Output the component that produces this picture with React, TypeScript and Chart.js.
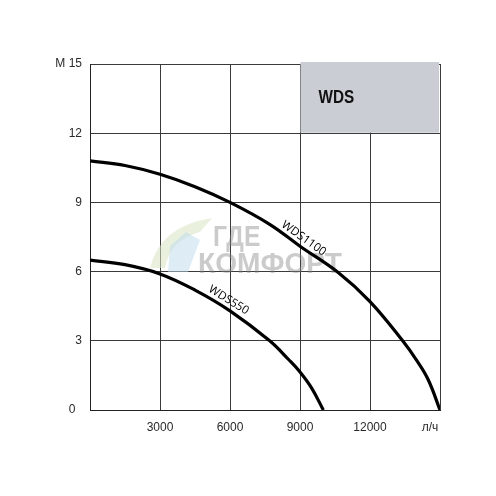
import React, { useEffect, useRef } from "react";
import { Chart, registerables } from "chart.js";

Chart.register(...registerables);

const xTickValues = [0, 3000, 6000, 9000, 12000, 15000];
const xTickLabels = ["", "3000", "6000", "9000", "12000", "л/ч      "];
const yTickValues = [0, 3, 6, 9, 12, 15];
const yTickLabels = ["0  ", "3", "6", "9", "12", "M 15"];

const wds1100Flow = [0, 1500, 3000, 4500, 6000, 7700, 9000, 10650, 12000, 13400, 14000, 14500, 15000];
const wds1100Head = [10.8, 10.6, 10.22, 9.68, 9.0, 8.05, 7.1, 5.95, 4.7, 3.0, 2.15, 1.3, 0];
const wds550Flow = [0, 1500, 3000, 4500, 6000, 7700, 8500, 9000, 9500, 10000];
const wds550Head = [6.5, 6.3, 5.9, 5.2, 4.3, 3.0, 2.2, 1.65, 0.95, 0];

const seriesNames = ["WDS1100", "WDS550"];
const labelAt = [8950, 5750];
const boxTitle = "WDS";
const boxRange = { x0: 9000, x1: 15000, y0: 12, y1: 15 };
const watermark = ["ГДЕ", "КОМФОРТ"];

function interp(xs: number[], ys: number[], x: number) {
  for (let i = 0; i < xs.length - 1; i++) {
    if (x >= xs[i] && x <= xs[i + 1]) {
      const t = (x - xs[i]) / (xs[i + 1] - xs[i]);
      return ys[i] + t * (ys[i + 1] - ys[i]);
    }
  }
  return ys[ys.length - 1];
}

const decorPlugin = {
  id: "decor",
  beforeDatasetsDraw(chart: any) {
    const ctx = chart.ctx;
    const xs = chart.scales.x;
    const ys = chart.scales.y;
    // faint watermark logo
    ctx.save();
    ctx.fillStyle = "rgba(215,228,195,0.55)";
    ctx.beginPath();
    ctx.moveTo(150, 268);
    ctx.quadraticCurveTo(160, 226, 212, 218);
    ctx.lineTo(200, 232);
    ctx.quadraticCurveTo(170, 240, 165, 268);
    ctx.closePath();
    ctx.fill();
    ctx.fillStyle = "rgba(190,220,235,0.5)";
    ctx.beginPath();
    ctx.moveTo(168, 272);
    ctx.lineTo(170, 246);
    ctx.lineTo(186, 232);
    ctx.lineTo(200, 240);
    ctx.lineTo(188, 272);
    ctx.closePath();
    ctx.fill();
    ctx.restore();
    // watermark text
    ctx.save();
    ctx.fillStyle = "rgba(130,130,130,0.42)";
    ctx.font = "bold 29px 'Liberation Sans', sans-serif";
    ctx.textBaseline = "alphabetic";
    ctx.textAlign = "left";
    ctx.save();
    ctx.translate(213, 246);
    ctx.scale(0.85, 1);
    ctx.fillText(watermark[0], 0, 0);
    ctx.restore();
    ctx.save();
    ctx.translate(198, 273);
    ctx.scale(0.97, 1);
    ctx.fillText(watermark[1], 0, 0);
    ctx.restore();
    ctx.restore();
    // grey box
    const l = xs.getPixelForValue(boxRange.x0) + 0.5;
    const r = xs.getPixelForValue(boxRange.x1) - 1;
    const t = ys.getPixelForValue(boxRange.y1) - 2;
    const b = ys.getPixelForValue(boxRange.y0) - 0.5;
    ctx.save();
    ctx.fillStyle = "#cbcdd5";
    ctx.fillRect(l, t, r - l, b - t);
    ctx.fillStyle = "#111";
    ctx.font = "bold 18px 'Liberation Sans', sans-serif";
    ctx.textBaseline = "middle";
    ctx.textAlign = "left";
    ctx.translate(l + 18, (t + b) / 2 + 1);
    ctx.scale(0.85, 1);
    ctx.fillText(boxTitle, 0, 0);
    ctx.restore();
  },
  afterDatasetsDraw(chart: any) {
    const ctx = chart.ctx;
    const xs = chart.scales.x;
    const ys = chart.scales.y;
    const sets = [
      [wds1100Flow, wds1100Head],
      [wds550Flow, wds550Head],
    ];
    sets.forEach((s, i) => {
      const q = labelAt[i];
      const x1 = xs.getPixelForValue(q - 400);
      const y1 = ys.getPixelForValue(interp(s[0], s[1], q - 400));
      const x2 = xs.getPixelForValue(q + 400);
      const y2 = ys.getPixelForValue(interp(s[0], s[1], q + 400));
      const ang = Math.atan2(y2 - y1, x2 - x1);
      const px = xs.getPixelForValue(q);
      const py = ys.getPixelForValue(interp(s[0], s[1], q));
      const off = 8.5;
      const cx = px + Math.sin(ang) * off;
      const cy = py - Math.cos(ang) * off;
      ctx.save();
      ctx.translate(cx, cy);
      ctx.rotate(ang);
      ctx.fillStyle = "#000";
      ctx.font = "11.5px 'Open Sans', sans-serif";
      ctx.textAlign = "center";
      ctx.textBaseline = "middle";
      ctx.fillText(seriesNames[i], 0, 0);
      ctx.restore();
    });
  },
};

export default function App() {
  const ref = useRef<HTMLCanvasElement | null>(null);
  useEffect(() => {
    if (!ref.current) return;
    const chart = new Chart(ref.current, {
      type: "line",
      data: {
        datasets: [
          {
            label: seriesNames[0],
            data: wds1100Flow.map((x, i) => ({ x, y: wds1100Head[i] })),
            borderColor: "#000",
            borderWidth: 3.2,
            pointRadius: 0,
            tension: 0.4,
            fill: false,
          },
          {
            label: seriesNames[1],
            data: wds550Flow.map((x, i) => ({ x, y: wds550Head[i] })),
            borderColor: "#000",
            borderWidth: 3.2,
            pointRadius: 0,
            tension: 0.4,
            fill: false,
          },
        ],
      },
      options: {
        animation: false,
        responsive: false,
        devicePixelRatio: 1,
        layout: { padding: { top: 64, right: 56, bottom: 0, left: 0 } },
        plugins: { legend: { display: false }, tooltip: { enabled: false } },
        scales: {
          x: {
            type: "linear",
            min: 0,
            max: 15000,
            afterFit: (s: any) => {
              s.height = 86;
            },
            afterBuildTicks: (s: any) => {
              s.ticks = xTickValues.map((v) => ({ value: v }));
            },
            grid: { color: "#3a3a3a", lineWidth: 1, drawTicks: false },
            border: { display: true, color: "#222", width: 1 },
            ticks: {
              padding: 10,
              maxRotation: 0,
              color: "#2a2a2a",
              font: { family: "'Liberation Sans', Arial, sans-serif", size: 12 },
              callback: (v: any) => {
                const i = xTickValues.indexOf(Number(v));
                return i >= 0 ? xTickLabels[i] : "";
              },
            },
          },
          y: {
            type: "linear",
            min: 0,
            max: 15,
            afterFit: (s: any) => {
              s.width = 90;
            },
            afterBuildTicks: (s: any) => {
              s.ticks = yTickValues.map((v) => ({ value: v }));
            },
            grid: { color: "#3a3a3a", lineWidth: 1, drawTicks: false },
            border: { display: true, color: "#222", width: 1 },
            ticks: {
              padding: 8,
              color: "#2a2a2a",
              font: { family: "'Liberation Sans', Arial, sans-serif", size: 12 },
              callback: (v: any) => {
                const i = yTickValues.indexOf(Number(v));
                return i >= 0 ? yTickLabels[i] : "";
              },
            },
          },
        },
      },
      plugins: [decorPlugin],
    } as any);
    return () => chart.destroy();
  }, []);
  return (
    <div style={{ position: "fixed", left: 0, top: 0, width: 496, height: 496, background: "#fff" }}>
      <canvas ref={ref} width={496} height={496} />
    </div>
  );
}
